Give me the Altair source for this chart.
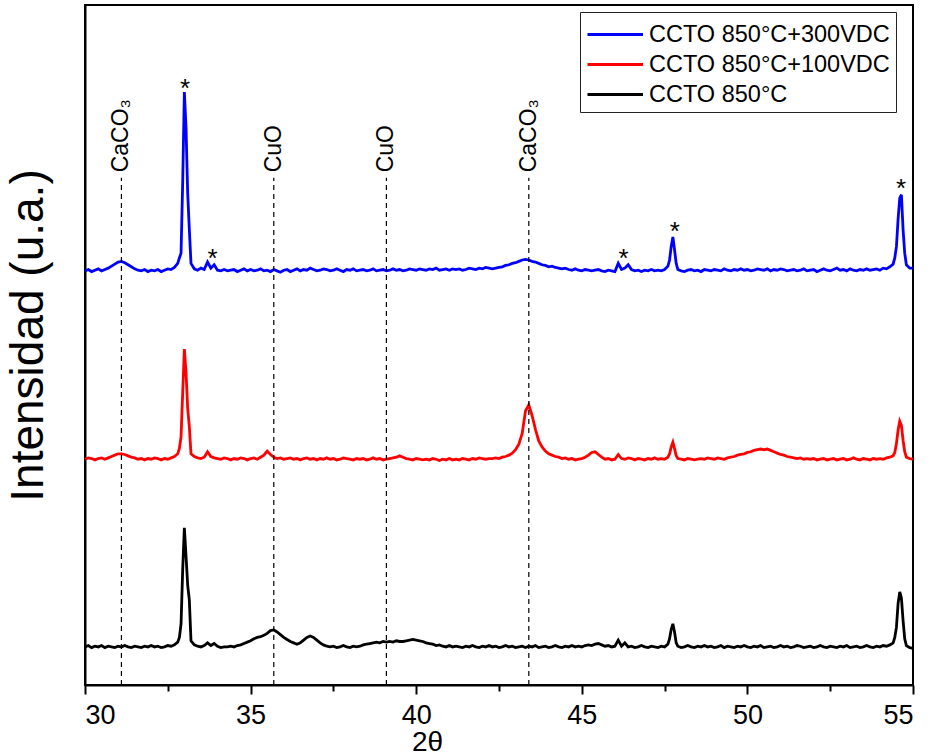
import altair as alt
import pandas as pd

# ---------------- data ----------------
two_theta = [
    30.0, 30.1, 30.2, 30.3, 30.4, 30.5, 30.6, 30.7, 30.8, 30.9,
    31.0, 31.1, 31.2, 31.3, 31.4, 31.5, 31.6, 31.7, 31.8, 31.9,
    32.0, 32.1, 32.2, 32.3, 32.4, 32.5, 32.6, 32.7, 32.8,
    32.85, 32.9, 32.95, 33.0, 33.05, 33.1, 33.15, 33.2,
    33.3, 33.4, 33.5, 33.6, 33.7, 33.8, 33.9, 34.0, 34.1, 34.2,
    34.3, 34.4, 34.5, 34.6, 34.7, 34.8, 34.9, 35.0, 35.1, 35.2,
    35.3, 35.4, 35.5, 35.6, 35.7, 35.8, 35.9, 36.0, 36.1, 36.2,
    36.3, 36.4, 36.5, 36.6, 36.7, 36.8, 36.9, 37.0, 37.1, 37.2,
    37.3, 37.4, 37.5, 37.6, 37.7, 37.8, 37.9, 38.0, 38.1, 38.2,
    38.3, 38.4, 38.5, 38.6, 38.7, 38.8, 38.9, 39.0, 39.1, 39.2,
    39.3, 39.4, 39.5, 39.6, 39.7, 39.8, 39.9, 40.0, 40.1, 40.2,
    40.3, 40.4, 40.5, 40.6, 40.7, 40.8, 40.9, 41.0, 41.1, 41.2,
    41.3, 41.4, 41.5, 41.6, 41.7, 41.8, 41.9, 42.0, 42.1, 42.2,
    42.3, 42.4, 42.5, 42.6, 42.7, 42.8, 42.9, 43.0, 43.1, 43.2,
    43.3, 43.4, 43.5, 43.6, 43.7, 43.8, 43.9, 44.0, 44.1, 44.2,
    44.3, 44.4, 44.5, 44.6, 44.7, 44.8, 44.9, 45.0, 45.1, 45.2,
    45.3, 45.4, 45.5, 45.6, 45.7, 45.8, 45.9, 46.0, 46.1, 46.2,
    46.3, 46.4, 46.5, 46.6, 46.7, 46.8, 46.9, 47.0, 47.1, 47.2,
    47.3, 47.4, 47.5, 47.6,
    47.65, 47.7, 47.75, 47.8, 47.85,
    47.9, 48.0, 48.1, 48.2, 48.3, 48.4, 48.5, 48.6, 48.7, 48.8,
    48.9, 49.0, 49.1, 49.2, 49.3, 49.4, 49.5, 49.6, 49.7, 49.8,
    49.9, 50.0, 50.1, 50.2, 50.3, 50.4, 50.5, 50.6, 50.7, 50.8,
    50.9, 51.0, 51.1, 51.2, 51.3, 51.4, 51.5, 51.6, 51.7, 51.8,
    51.9, 52.0, 52.1, 52.2, 52.3, 52.4, 52.5, 52.6, 52.7, 52.8,
    52.9, 53.0, 53.1, 53.2, 53.3, 53.4, 53.5, 53.6, 53.7, 53.8,
    53.9, 54.0, 54.1, 54.2, 54.3, 54.4,
    54.45, 54.5, 54.55, 54.6, 54.65, 54.7, 54.75, 54.8,
    54.9, 55.0,
]

ccto_300vdc = [
    60.9, 61.1, 60.8, 61.0, 61.2, 60.9, 61.1, 61.3, 61.6, 61.9,
    62.2, 62.3, 62.1, 61.8, 61.5, 61.2, 61.0, 60.9, 61.1, 60.8,
    61.0, 60.9, 61.1, 60.8, 61.0, 61.2, 61.1, 61.4, 62.0,
    62.8, 63.5, 74.0, 87.2, 82.0, 72.4, 67.0, 62.0,
    61.2, 61.0, 61.3, 61.1, 62.2, 61.3, 61.8, 61.0, 60.9, 61.1,
    60.9, 61.0, 61.1, 60.8, 61.0, 61.2, 60.9, 61.1, 60.9, 61.0,
    61.2, 60.9, 61.0, 60.8, 61.1, 60.9, 60.7, 61.0, 61.1, 60.8,
    61.0, 61.2, 60.9, 61.1, 61.0, 61.3, 61.1, 60.9, 61.0, 61.2,
    61.1, 60.9, 61.0, 61.2, 61.0, 60.8, 61.1, 61.0, 61.2, 60.9,
    61.0, 61.1, 60.9, 61.0, 61.2, 60.9, 61.0, 61.1, 60.9, 61.0,
    61.2, 61.0, 61.1, 60.9, 61.0, 61.2, 61.1, 61.0, 61.2, 61.1,
    61.0, 61.2, 61.1, 61.3, 61.0, 61.1, 61.2, 61.0, 61.2, 61.1,
    61.2, 61.0, 61.1, 61.3, 61.2, 61.1, 61.3, 61.2, 61.4, 61.3,
    61.2, 61.3, 61.4, 61.5, 61.7, 61.8, 62.0, 62.1, 62.3, 62.5,
    62.6, 62.5, 62.3, 62.2, 62.0, 61.8, 61.7, 61.5, 61.6, 61.4,
    61.3, 61.2, 61.3, 61.1, 61.0, 61.2, 61.0, 60.9, 61.1, 61.0,
    60.9, 61.0, 61.1, 60.9, 60.8, 61.0, 60.9, 60.8, 62.0, 61.1,
    61.3, 61.8, 61.1, 60.9, 61.0, 60.8, 61.0, 60.9, 61.1, 60.9,
    61.0, 60.9, 61.1, 61.6,
    62.5, 64.5, 65.9, 64.0, 62.0,
    61.1, 60.9, 60.8, 61.0, 61.1, 60.9, 61.0, 60.8, 61.1, 61.0,
    60.9, 61.1, 61.0, 60.9, 61.2, 61.0, 60.9, 61.1, 61.0, 61.2,
    61.0, 61.1, 60.9, 61.0, 61.2, 61.1, 61.0, 61.2, 60.9, 61.1,
    61.0, 61.2, 61.1, 60.9, 61.0, 61.1, 60.9, 61.0, 61.2, 60.9,
    61.0, 61.1, 60.8, 61.0, 61.2, 61.0, 60.9, 61.1, 61.3, 61.0,
    61.1, 60.9, 61.2, 61.0, 60.9, 61.1, 61.0, 61.2, 61.0, 61.1,
    61.2, 61.0, 61.3, 61.2, 61.5, 61.9,
    62.8, 64.5, 68.5, 71.6, 72.1, 67.0, 63.5, 61.8,
    61.3, 61.3,
]

ccto_100vdc = [
    33.2, 33.4, 33.3, 33.1, 33.3, 33.4, 33.2, 33.4, 33.6, 33.8,
    34.0, 34.0, 33.9, 33.7, 33.5, 33.4, 33.2, 33.3, 33.1, 33.3,
    33.2, 33.4, 33.3, 33.1, 33.3, 33.2, 33.4, 33.6, 34.0,
    34.8, 36.5, 43.0, 49.4, 46.0, 40.7, 38.0, 34.0,
    33.6, 33.4, 33.3, 33.5, 34.3, 33.6, 33.4, 33.3, 33.2, 33.4,
    33.3, 33.1, 33.3, 33.2, 33.4, 33.3, 33.1, 33.3, 33.4, 33.2,
    33.5, 33.8, 34.4, 33.9, 33.5, 33.3, 33.4, 33.2, 33.3, 33.4,
    33.2, 33.3, 33.1, 33.3, 33.4, 33.2, 33.3, 33.1, 33.3, 33.2,
    33.4, 33.2, 33.3, 33.1, 33.2, 33.4, 33.3, 33.2, 33.1, 33.3,
    33.2, 33.3, 33.1, 33.2, 33.4, 33.2, 33.3, 33.1, 33.2, 33.3,
    33.4, 33.5, 33.7, 33.5, 33.3, 33.2, 33.1, 33.3, 33.2, 33.1,
    33.2, 33.1, 33.3, 33.2, 33.0, 33.2, 33.1, 33.3, 33.1, 33.2,
    33.1, 33.3, 33.2, 33.1, 33.3, 33.2, 33.4, 33.3, 33.2, 33.3,
    33.3, 33.4, 33.3, 33.5, 33.6, 33.8, 34.1, 34.6, 35.4, 37.0,
    40.3, 41.2, 39.6, 37.6, 35.9, 35.0, 34.4, 34.0, 33.8, 33.6,
    33.5, 33.3, 33.4, 33.2, 33.3, 33.1, 33.2, 33.3, 33.5, 33.8,
    34.2, 34.3, 33.9, 33.5, 33.2, 33.3, 33.1, 33.2, 33.9, 33.3,
    33.2, 33.4, 33.3, 33.1, 33.3, 33.2, 33.1, 33.3, 33.2, 33.4,
    33.2, 33.3, 33.2, 33.5,
    34.0, 35.0, 35.7, 34.8, 33.7,
    33.3, 33.2, 33.1, 33.3, 33.2, 33.1, 33.2, 33.3, 33.2, 33.4,
    33.3, 33.2, 33.4, 33.3, 33.2, 33.4, 33.5, 33.6, 33.8, 33.9,
    34.0, 34.2, 34.3, 34.5, 34.6, 34.7, 34.6, 34.7, 34.5, 34.3,
    34.1, 33.9, 33.8, 33.6, 33.5, 33.4, 33.3, 33.4, 33.2, 33.3,
    33.2, 33.3, 33.1, 33.2, 33.3, 33.1, 33.2, 33.3, 33.1, 33.2,
    33.3, 33.1, 33.2, 33.4, 33.2, 33.1, 33.3, 33.2, 33.1, 33.3,
    33.2, 33.3, 33.2, 33.4, 33.5, 33.7,
    34.2, 35.5, 37.5, 38.8, 38.2, 36.0, 34.3, 33.5,
    33.3, 33.2,
]

ccto_850 = [
    5.6, 5.8, 5.5, 5.7, 5.6, 5.8, 5.5, 5.7, 5.6, 5.5,
    5.7, 5.6, 5.8, 5.6, 5.5, 5.7, 5.6, 5.5, 5.7, 5.6,
    5.8, 5.6, 5.7, 5.5, 5.6, 5.8, 5.7, 5.9, 6.3,
    7.0, 9.0, 17.0, 23.1, 19.0, 14.7, 12.5, 6.5,
    5.9, 5.7, 5.6, 5.8, 6.2, 5.8, 6.1, 5.7, 5.5, 5.6,
    5.6, 5.7, 5.6, 5.8, 5.9, 6.1, 6.3, 6.5, 6.8, 7.0,
    7.1, 7.3, 7.6, 8.0, 8.1, 7.8, 7.4, 7.0, 6.7, 6.4,
    6.2, 6.0, 6.2, 6.6, 7.0, 7.2, 7.0, 6.6, 6.2, 5.9,
    5.7, 5.6, 5.7, 5.5, 5.6, 5.8, 5.6, 5.5, 5.7, 5.6,
    5.7, 5.9, 6.0, 6.1, 6.2, 6.3, 6.2, 6.4, 6.3, 6.4,
    6.3, 6.5, 6.4, 6.4, 6.5, 6.6, 6.7, 6.6, 6.5, 6.4,
    6.2, 6.1, 6.0, 5.8, 5.9, 5.7, 5.6, 5.8, 5.6, 5.7,
    5.6, 5.5, 5.7, 5.6, 5.8, 5.6, 5.5, 5.7, 5.6, 5.8,
    5.6, 5.7, 5.5, 5.6, 5.8, 5.6, 5.7, 5.5, 5.6, 5.7,
    5.5, 5.7, 5.6, 5.8, 5.5, 5.6, 5.7, 5.5, 5.6, 5.8,
    5.6, 5.5, 5.7, 5.6, 5.8, 5.6, 5.7, 5.6, 5.8, 5.9,
    5.8, 6.0, 6.1, 5.9, 5.7, 5.8, 5.6, 5.7, 6.6, 5.7,
    6.2, 5.6, 5.7, 5.5, 5.6, 5.8, 5.6, 5.5, 5.7, 5.6,
    5.5, 5.7, 5.6, 6.0,
    6.8, 8.2, 9.0, 7.8, 6.2,
    5.7, 5.5, 5.6, 5.8, 5.6, 5.5, 5.7, 5.6, 5.8, 5.6,
    5.7, 5.5, 5.6, 5.8, 5.5, 5.7, 5.6, 5.5, 5.7, 5.6,
    5.8, 5.6, 5.5, 5.7, 5.6, 5.8, 5.5, 5.6, 5.7, 5.5,
    5.6, 5.8, 5.6, 5.7, 5.5, 5.6, 5.8, 5.7, 5.5, 5.6,
    5.7, 5.5, 5.6, 5.8, 5.6, 5.5, 5.7, 5.6, 5.5, 5.7,
    5.6, 5.8, 5.5, 5.6, 5.7, 5.5, 5.6, 5.8, 5.6, 5.5,
    5.7, 5.6, 5.8, 5.7, 5.9, 6.2,
    7.0, 8.5, 12.0, 13.7, 12.8, 9.5, 6.8, 5.8,
    5.5, 5.4,
]

series_names = ["CCTO 850°C+300VDC", "CCTO 850°C+100VDC", "CCTO 850°C"]
series_colors = ["#0000FF", "#FF0000", "#000000"]

phase_pos = [31.1, 35.7, 39.1, 43.4]
phase_names = ["CaCO₃", "CuO", "CuO", "CaCO₃"]

star_pos = [33.02, 33.85, 46.26, 47.81, 54.64]
star_level = [88.5, 63.5, 63.5, 67.5, 73.8]

x_ticks = [30, 32.5, 35, 37.5, 40, 42.5, 45, 47.5, 50, 52.5, 55]

# ---------------- tables ----------------
rows = []
for name, vals in zip(series_names, [ccto_300vdc, ccto_100vdc, ccto_850]):
    for t, v in zip(two_theta, vals):
        rows.append({"t": t, "I": v, "serie": name})
df = pd.DataFrame(rows)
phase_df = pd.DataFrame({"t": phase_pos, "fase": phase_names})
star_df = pd.DataFrame({"t": star_pos, "I": star_level})

FONT = "Liberation Sans"
X_DOM = [30, 55]
Y_DOM = [0, 100]

xs = alt.Scale(domain=X_DOM, nice=False, zero=False)
ys = alt.Scale(domain=Y_DOM, nice=False, zero=False)

MAJOR = "datum.value % 5 == 0"

lines = alt.Chart(df).mark_line(strokeWidth=2.8).encode(
    x=alt.X("t:Q", scale=xs,
            axis=alt.Axis(values=x_ticks, title="2θ",
                          labelExpr=f"{MAJOR} ? format(datum.value, 'd') : ''",
                          tickSize={"condition": {"test": MAJOR, "value": 9},
                                    "value": 6},
                          tickWidth=2, labelPadding=8,
                          labelFontSize=27, titleFontSize=28,
                          titleX=342, titleY=65, titleBaseline="alphabetic",
                          titleAlign="center")),
    y=alt.Y("I:Q", scale=ys,
            axis=alt.Axis(labels=False, ticks=False, title="Intensidad (u.a.)",
                          titleFontSize=46, titleX=-57, titleY=330,
                          titleAngle=270, titleAlign="center",
                          titleBaseline="middle")),
    color=alt.Color("serie:N",
                    scale=alt.Scale(domain=series_names, range=series_colors),
                    legend=alt.Legend(title=None, orient="none",
                                      legendX=495, legendY=7)),
    detail="serie:N",
    order="t:Q",
)

rules = alt.Chart(phase_df).mark_rule(
    color="black", strokeWidth=1.2, strokeDash=[5, 4]
).encode(
    x=alt.X("t:Q", scale=xs),
    y=alt.datum(0),
    y2=alt.datum(74.6),
)

labels = alt.Chart(phase_df).mark_text(
    angle=270, align="left", baseline="middle", fontSize=23, font=FONT,
    color="black"
).encode(
    x=alt.X("t:Q", scale=xs),
    y=alt.datum(75.4),
    text="fase:N",
)

stars = alt.Chart(star_df).mark_text(
    text="*", fontSize=26, font=FONT, color="black", baseline="middle", dy=6
).encode(
    x=alt.X("t:Q", scale=xs),
    y=alt.Y("I:Q", scale=ys),
)

chart = alt.layer(lines, rules, labels, stars).properties(
    width=828, height=680,
    autosize=alt.AutoSizeParams(type="none"),
    padding={"left": 85, "top": 5, "right": 17, "bottom": 71},
).configure_view(
    stroke="black", strokeWidth=2
).configure_axis(
    labelFont=FONT, titleFont=FONT, labelColor="black", titleColor="black",
    titleFontWeight="normal", domainColor="black", domainWidth=2,
    tickColor="black", grid=False,
).configure_legend(
    labelFont=FONT, labelFontSize=23.5, labelColor="black", labelLimit=0,
    symbolType="M-1,0H2.7", symbolStrokeWidth=3, symbolSize=900,
    labelOffset=30, rowPadding=2, padding=6,
    strokeColor="#222222", fillColor="white",
)

chart.save("out.html", embed_options={"renderer": "svg", "actions": False})
